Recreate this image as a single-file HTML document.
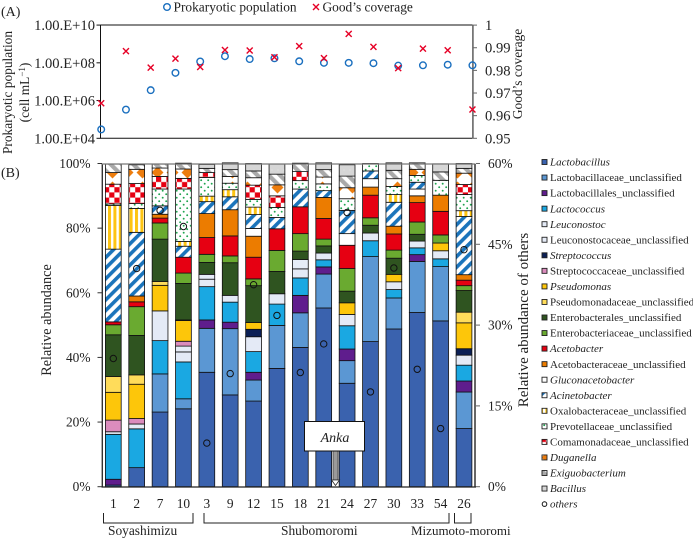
<!DOCTYPE html>
<html>
<head>
<meta charset="utf-8">
<title>Prokaryotic population and community composition</title>
<style>
html,body{margin:0;padding:0;background:#fff;}
svg{display:block;font-family:"Liberation Serif",serif;fill:#222;}
text{fill:#222;}
</style>
</head>
<body>
<svg id="chart" xmlns="http://www.w3.org/2000/svg" width="693" height="539" viewBox="0 0 693 539">
<defs>
<pattern id="p-acineto" patternUnits="userSpaceOnUse" width="7.5" height="7.5" patternTransform="rotate(45)"><rect width="7.5" height="7.5" fill="#fff"/><rect width="3.6" height="7.5" fill="#1b74bb"/></pattern>
<pattern id="p-oxalo" patternUnits="userSpaceOnUse" width="5.4" height="6"><rect width="5.4" height="6" fill="#fff"/><rect width="3" height="6" fill="#fdc413"/></pattern>
<pattern id="p-prevot" patternUnits="userSpaceOnUse" width="7" height="7"><rect width="7" height="7" fill="#fff"/><circle cx="1.7" cy="1.7" r="0.95" fill="#1fa550"/><circle cx="5.2" cy="5.2" r="0.95" fill="#1fa550"/></pattern>
<pattern id="p-coma" patternUnits="userSpaceOnUse" width="10.4" height="10.4"><rect width="10.4" height="10.4" fill="#fff"/><rect width="5.2" height="5.2" fill="#e60012"/><rect x="5.2" y="5.2" width="5.2" height="5.2" fill="#e60012"/></pattern>
<pattern id="p-dug" patternUnits="userSpaceOnUse" width="15" height="15"><rect width="15" height="15" fill="#fff"/><path d="M7.5 1.5L13.5 7.5L7.5 13.5L1.5 7.5Z" fill="#ed7d0e"/></pattern>
<pattern id="p-exig" patternUnits="userSpaceOnUse" width="8" height="8" patternTransform="rotate(-45)"><rect width="8" height="8" fill="#fff"/><rect width="4.2" height="8" fill="#a9a9a9"/></pattern>
<pattern id="p-bac" patternUnits="userSpaceOnUse" width="6" height="6"><rect width="6" height="6" fill="#d6d6d6"/><circle cx="2" cy="2" r="0.5" fill="#eee"/></pattern>
</defs>

<text x="1" y="16" font-size="14">(A)</text>
<text x="1" y="177" font-size="14">(B)</text>

<circle cx="167" cy="7" r="3.3" fill="none" stroke="#1a6fbf" stroke-width="1.4"/>
<text x="173.5" y="11.5" font-size="13.4">Prokaryotic population</text>
<path d="M313 4L319 10M319 4L313 10" stroke="#e60026" stroke-width="1.4" fill="none"/>
<text x="322.5" y="11.5" font-size="13.4">Good’s coverage</text>

<text transform="translate(12,92.5) rotate(-90)" text-anchor="middle" font-size="13.4">Prokaryotic population</text>
<text transform="translate(29,92.5) rotate(-90)" text-anchor="middle" font-size="13.4">(cell mL<tspan dy="-4" font-size="9">−1</tspan><tspan dy="4">)</tspan></text>
<text transform="translate(522,74) rotate(-90)" text-anchor="middle" font-size="13.4">Good’s coverage</text>
<text transform="translate(51,320) rotate(-90)" text-anchor="middle" font-size="14.2">Relative abundance</text>
<text transform="translate(528,320) rotate(-90)" text-anchor="middle" font-size="15">Relative abundance of others</text>

<g id="panelA"></g>
<g id="panelB"></g>
<g id="legendB"></g>

<g>
<rect x="333" y="451" width="5" height="29" fill="#9a9a9a" stroke="#333" stroke-width="0.7"/>
<path d="M331.5 480L339.5 480L335.5 485.5Z" fill="#fff" stroke="#222" stroke-width="0.8"/>
<rect x="304.5" y="421.5" width="60" height="29.5" fill="#fff" stroke="#111" stroke-width="1"/>
<text x="335" y="442" text-anchor="middle" font-size="14" font-style="italic">Anka</text>
</g>

<g fill="none" stroke="#222" stroke-width="1">
<path d="M103.5 513V523H193V513"/>
<path d="M204 513V523H449V513"/>
<path d="M454.5 513V523H471V513"/>
</g>
<text x="108" y="535" font-size="13.4">Soyashimizu</text>
<text x="281" y="535" font-size="13.4">Shubomoromi</text>
<text x="411" y="535" font-size="13">Mizumoto-moromi</text>

<script>
// ---------- Panel A data ----------
const popLog10 = [4.47,5.52,6.55,7.47,8.07,8.35,8.2,8.24,8.08,8.0,8.0,7.98,7.85,7.87,7.9,7.87];
const goodsCoverage = [0.9655,0.9885,0.9812,0.9852,0.9815,0.989,0.9888,0.9858,0.9907,0.9854,0.9961,0.9904,0.981,0.9896,0.9889,0.9627];
const popTicks = [10,8,6,4];
const popTickLabels = ["1.00.E+10","1.00.E+08","1.00.E+06","1.00.E+04"];
const goodsTicks = [1,0.99,0.98,0.97,0.96,0.95];
const goodsTickLabels = ["1","0.99","0.98","0.97","0.96","0.95"];

// ---------- Panel B data ----------
const sampleLabels = ["1","2","7","10","3","9","12","15","18","21","24","27","30","33","54","26"];
const lactobacillus = [0.5,5.9,23.1,24.1,35.4,28.4,26.5,36.6,43.1,55.3,32,44.9,48.8,53.9,51.3,18];
const lactobacillaceaeU = [0,0,11.8,3.1,13.6,20.5,6.5,13.3,10.7,10.5,7,26.3,9.6,15.8,16.8,11.3];
const lactobacillalesU = [1.8,0,0,0,2.6,2,2.4,0,5.4,2.2,3.6,0,0,2.1,0,3.4];
const lactococcus = [13.9,12,10.3,11.4,10.3,6.2,6.4,6.6,5.4,2.2,7.2,4.9,2.6,2.1,2.4,4.9];
const leuconostoc = [0,0,9.2,3.1,2.3,2.1,4.6,3.2,2.8,2.1,3.5,2.4,2.4,2.1,2.5,3.1];
const leuconostocaceaeU = [0.8,1.5,0,1.8,1.5,0,0,0,2.9,0,0,0,0,0,0,0];
const streptococcus = [0,0,0,0,0,0,2.3,0,0,0,0,0,0,0,0,2];
const streptococcaceaeU = [3.6,1.7,0,1.5,0,0,0,0,0,0,0,0,0,0,0,0];
const pseudomonas = [8.6,10.6,7.9,6.4,0,0,2.1,0,0,0,3.6,0,2.3,0,2.4,8];
const pseudomonadaceaeU = [4.9,2.9,1.2,0.2,0,0,0,0,0,0,0,0,0,0,0,3.3];
const enterobacteralesU = [12.9,12.2,13.1,11.3,3.7,10.1,11.4,6.9,2.6,2.2,3.6,2.4,5,2.1,0,6.7];
const enterobacteriaceaeU = [3.1,8.9,5,3.2,2.5,2.1,2.1,6.5,5.4,2.1,7,2.3,2.5,3.8,2.5,1.5];
const acetobacter = [0.9,1.5,1.5,4.9,5.2,6.2,6.7,6.7,8.3,6.4,7.2,7,5,6,7.3,1.7];
const acetobacteraceaeU = [0,1.8,1.2,0,7.4,8.1,6.5,0,0,6.5,0,2.5,2.4,2.1,5,1.7];
const gluconacetobacter = [0,0,0,0,0,0,2.4,0,0,0,3.6,2.6,0,2.1,0,0];
const acinetobacter = [22.5,19.7,2.6,3.4,3.7,4,4.3,3.5,5.5,2.1,7.2,2.4,7.4,2.1,0,18];
const oxalobacteraceaeU = [13.5,7.4,0,1.5,1.7,2.2,2.3,0,0,0,0,0,2.4,0,0,1.8];
const prevotellaceaeU = [0.5,1.5,5.2,16.2,5.8,2,2.4,3.1,2.6,2.1,3.6,2.3,2.5,2.1,4.6,5];
const comamonadaceaeU = [6.1,6.2,3.9,3.3,1.5,0,4.4,3.6,2.8,0,0,0,0,0,0,3.1];
const duganella = [3.6,4.4,2.6,2.9,0,2.1,2.3,3.4,0,2.1,3.4,0,2.4,1.9,0,3.5];
const exiguobacterium = [2.6,1.4,1.2,1.8,1.3,2.1,2.1,3.3,2.6,2.3,3.6,0,2.6,2,2.6,1.5];
const bacillus = [0,0,0,0,1.2,2.1,2.3,3.1,0,2.1,3.5,0,2.3,0,2.5,1.5];
const others = [23.8,40.5,51.3,48.3,8.1,21,37.5,31.8,21.2,26.5,50.9,17.6,40.6,21.8,10.8,44];
const abundanceTickValues = [0,20,40,60,80,100];
const abundanceTickLabels = ["0%","20%","40%","60%","80%","100%"];
const othersTickValues = [0,15,30,45,60];
const othersTickLabels = ["0%","15%","30%","45%","60%"];
const seriesNames = ["Lactobacillus","Lactobacillaceae_unclassified","Lactobacillales_unclassified","Lactococcus","Leuconostoc","Leuconostocaceae_unclassified","Streptococcus","Streptococcaceae_unclassified","Pseudomonas","Pseudomonadaceae_unclassified","Enterobacterales_unclassified","Enterobacteriaceae_unclassified","Acetobacter","Acetobacteraceae_unclassified","Gluconacetobacter","Acinetobacter","Oxalobacteraceae_unclassified","Prevotellaceae_unclassified","Comamonadaceae_unclassified","Duganella","Exiguobacterium","Bacillus"];
const seriesValues = [lactobacillus,lactobacillaceaeU,lactobacillalesU,lactococcus,leuconostoc,leuconostocaceaeU,streptococcus,streptococcaceaeU,pseudomonas,pseudomonadaceaeU,enterobacteralesU,enterobacteriaceaeU,acetobacter,acetobacteraceaeU,gluconacetobacter,acinetobacter,oxalobacteraceaeU,prevotellaceaeU,comamonadaceaeU,duganella,exiguobacterium,bacillus];
const seriesFills = ["#3a62ae","#5b97d3","#5f1d8d","#1aa8e2","#e4eaf6","#e6ecf7","#0b1f55","#db8cbd","#fdc60a","#ffdc5a","#2f5420","#6aaa30","#e60012","#ec7c00","#ffffff","url(#p-acineto)","url(#p-oxalo)","url(#p-prevot)","url(#p-coma)","url(#p-dug)","url(#p-exig)","url(#p-bac)"];
const italicNames = ["Lactobacillus","Lactococcus","Leuconostoc","Streptococcus","Pseudomonas","Acetobacter","Gluconacetobacter","Acinetobacter","Duganella","Exiguobacterium","Bacillus"];

// ---------- Axis functions ----------
const xA = i => 101.2 + i * 24.75;
const yPop = v => 138.3 - (v - 4) * 18.87;
const yGood = v => 138.3 - (v - 0.95) * 2264;
const xB = i => 113.3 + i * 23.38;
const yB = p => 486.7 - p * 3.232;
const yOthers = p => 486.7 - p * 5.387;

const NS = "http://www.w3.org/2000/svg";
function mk(parent, tag, attrs, txt) {
  const el = document.createElementNS(NS, tag);
  for (const k in attrs) el.setAttribute(k, attrs[k]);
  if (txt !== undefined) el.textContent = txt;
  parent.appendChild(el);
  return el;
}
const panelA = document.getElementById("panelA");
const panelB = document.getElementById("panelB");
const legendB = document.getElementById("legendB");
let el;

// ---------- Panel A ----------
el = mk(panelA, "path", {d:"M100.5 25H472.7M100.5 25V138.3H472.7", fill:"none", stroke:"#111", "stroke-width":1});


el = mk(panelA, "line", {x1:472.9, x2:472.9, y1:25, y2:138.3, stroke:"#666", "stroke-width":1.6});


popTicks.forEach((t, i) => {
  el = mk(panelA, "line", {x1:96.5, x2:100.5, y1:yPop(t), y2:yPop(t), stroke:"#111", "stroke-width":1});
  
  
  el = mk(panelA, "text", {x:95, y:yPop(t) + 5, "text-anchor":"end", "font-size":14.6}, popTickLabels[i]);
  
  
});
goodsTicks.forEach((t, i) => {
  el = mk(panelA, "line", {x1:473, x2:477, y1:yGood(t), y2:yGood(t), stroke:"#666", "stroke-width":1});
  
  
  el = mk(panelA, "text", {x:485, y:yGood(t) + 5, "font-size":14.6}, goodsTickLabels[i]);
  
  
});
popLog10.forEach((v, i) => {
  el = mk(panelA, "circle", {cx:xA(i), cy:yPop(v), r:3.3, fill:"none", stroke:"#1a6fbf", "stroke-width":1.4});
  
  
});
goodsCoverage.forEach((v, i) => {
  const x = xA(i), y = yGood(v);
  el = mk(panelA, "path", {d:`M${x-3} ${y-3}L${x+3} ${y+3}M${x+3} ${y-3}L${x-3} ${y+3}`, fill:"none", stroke:"#e60026", "stroke-width":1.4});
  
  
});

// ---------- Panel B ----------
sampleLabels.forEach((s, i) => {
  let cum = 0;
  seriesValues.forEach((vals, k) => {
    const v = vals[i];
    if (v > 0) {
      el = mk(panelB, "rect", {x:xB(i) - 7.9, y:yB(cum + v), width:15.8, height:yB(cum) - yB(cum + v), fill:seriesFills[k], stroke:"#111", "stroke-width":0.8});
      
      
    }
    cum += v;
  });
  el = mk(panelB, "text", {x:xB(i), y:508, "text-anchor":"middle", "font-size":13.4}, s);
  
  
});
el = mk(panelB, "line", {x1:102.3, x2:102.3, y1:164, y2:486.7, stroke:"#333", "stroke-width":1.4});


el = mk(panelB, "line", {x1:102, x2:475.5, y1:164, y2:164, stroke:"#777", "stroke-width":1.2});


el = mk(panelB, "line", {x1:475, x2:475, y1:164, y2:486.7, stroke:"#666", "stroke-width":2});


el = mk(panelB, "line", {x1:101.5, x2:476, y1:487, y2:487, stroke:"#222", "stroke-width":1.2});


abundanceTickValues.forEach((t, i) => {
  el = mk(panelB, "line", {x1:97.5, x2:102, y1:yB(t), y2:yB(t), stroke:"#333", "stroke-width":1});
  
  
  el = mk(panelB, "text", {x:90.5, y:yB(t) + 4.5, "text-anchor":"end", "font-size":13.4}, abundanceTickLabels[i]);
  
  
});
othersTickValues.forEach((t, i) => {
  el = mk(panelB, "line", {x1:476, x2:480, y1:yOthers(t), y2:yOthers(t), stroke:"#666", "stroke-width":1});
  
  
  el = mk(panelB, "text", {x:488, y:yOthers(t) + 4.5, "font-size":13.4}, othersTickLabels[i]);
  
  
});
others.forEach((v, i) => {
  el = mk(panelB, "circle", {cx:xB(i), cy:yOthers(v), r:3.2, fill:"none", stroke:"#111", "stroke-width":1});
  
  
});

// ---------- Legend ----------
seriesNames.forEach((name, k) => {
  const y = 162 + k * 15.55;
  el = mk(legendB, "rect", {x:542, y:y - 2.5, width:5, height:5, fill:seriesFills[k], stroke:"#222", "stroke-width":0.9});
  
  
  el = mk(legendB, "text", {x:550, y:y + 3.6, "font-size":11, "font-style":italicNames.includes(name) ? "italic" : "normal"}, name);
  
  
});
const othersLegendY = 162 + seriesNames.length * 15.55;
el = mk(legendB, "circle", {cx:544.5, cy:othersLegendY, r:2.3, fill:"none", stroke:"#111", "stroke-width":1});


el = mk(legendB, "text", {x:550, y:othersLegendY + 3.6, "font-size":11, "font-style":"italic"}, "others");


</script>
</svg>
</body>
</html>
